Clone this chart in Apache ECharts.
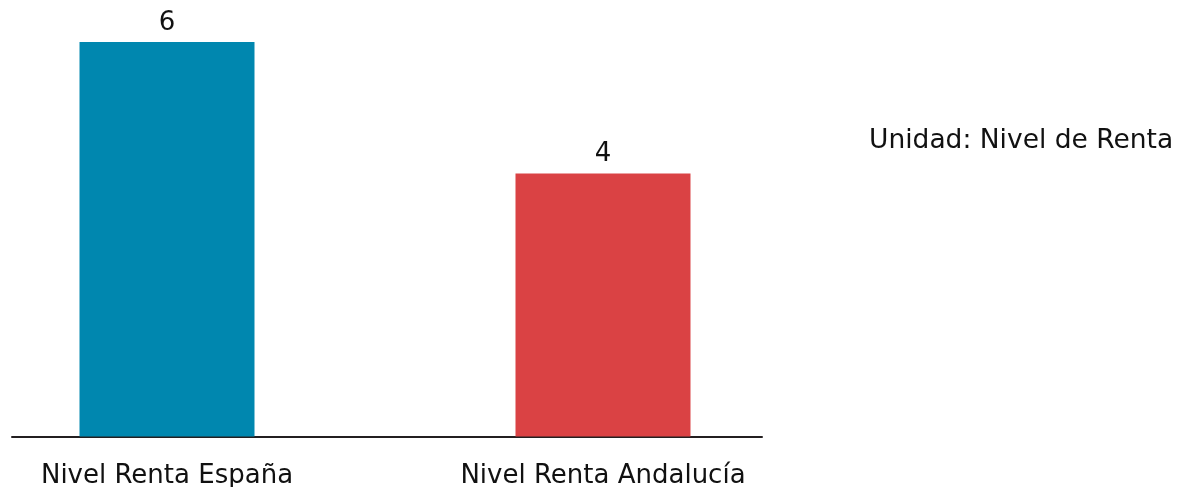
<!DOCTYPE html>
<html>
<head>
<meta charset="utf-8">
<script src="https://cdn.jsdelivr.net/npm/echarts@6/dist/echarts.min.js"></script>
<style>
    html, body { margin: 0; padding: 0; background: #fff; }
    #chart { width: 1182px; height: 487px; }
</style>
</head>
<body>
<div id="chart"></div>
<script>
    // datos
    var categorias = ['Nivel Renta España', 'Nivel Renta Andalucía'];
    var valores = [6, 4];
    var colores = ['#0087AF', '#DA4244'];
    var unidad = 'Unidad: Nivel de Renta';

    var fuente = 'DejaVu Sans';

    var myChart = echarts.init(document.getElementById('chart'));
    myChart.setOption({
        animation: false,
        title: {
            text: unidad,
            left: 869,
            top: 128,
            padding: 0,
            textStyle: {
                fontFamily: fuente,
                fontSize: 26.5,
                fontWeight: 'normal',
                color: '#111'
            }
        },
        grid: { left: 12, width: 750, top: 42, bottom: 50.5, outerBoundsMode: 'none' },
        xAxis: {
            // eje numérico: cada categoría en su índice (0, 1)
            type: 'value',
            min: -0.3555,
            max: 1.3647,
            splitLine: { show: false },
            axisLine: { show: true, lineStyle: { color: '#231f20', width: 2 } },
            axisTick: { show: false },
            axisLabel: {
                customValues: categorias.map(function (c, i) { return i; }),
                formatter: function (v) { return categorias[Math.round(v)]; },
                fontFamily: fuente,
                fontSize: 26,
                color: '#111',
                margin: 27
            }
        },
        yAxis: { type: 'value', min: 0, max: 6, show: false },
        series: [
            {
                type: 'bar',
                barWidth: 175,
                data: valores.map(function (v, i) {
                    return { value: [i, v], itemStyle: { color: colores[i] } };
                }),
                label: {
                    show: true,
                    position: 'top',
                    distance: 6,
                    fontFamily: fuente,
                    fontSize: 26,
                    color: '#111',
                    formatter: function (p) { return p.value[1]; }
                }
            }
        ]
    });
</script>
</body>
</html>
